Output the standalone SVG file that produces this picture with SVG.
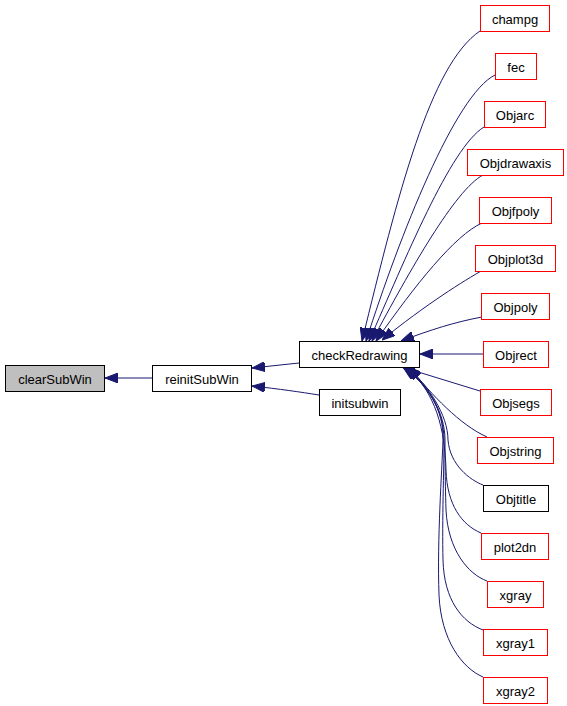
<svg xmlns="http://www.w3.org/2000/svg" width="567" height="706" viewBox="0 0 567 706">
<style>
.n rect{fill:#ffffff;stroke:#000000;stroke-width:1}
.n.r rect{stroke:#ff0000}
.n.g rect{fill:#bfbfbf}
.n text{font-family:"Liberation Sans",Arial,sans-serif;font-size:13px;fill:#000000;text-anchor:middle}
.e path{fill:none;stroke:#191970;stroke-width:1;marker-end:url(#ah)}
</style>
<defs>
<marker id="ah" viewBox="0 0 13 10" refX="13" refY="5" markerWidth="13" markerHeight="10" markerUnits="userSpaceOnUse" orient="auto">
<path d="M0,0 L13,5 L0,10 z" fill="#191970" stroke="#191970" stroke-width="1"/>
</marker>
</defs>
<rect width="567" height="706" fill="#ffffff"/>
<g id="edges" class="e">
<path d="M152,378 L105,378"/>
<path d="M299,363 L252,368"/>
<path d="M319,395 C300,392 280,389 252,386"/>
<path d="M480,31 C430,65 398,194 362,341"/>
<path d="M495,75 C455,95 400,235 366,341"/>
<path d="M484,127 C450,148 405,260 369,341"/>
<path d="M483,175 C455,190 410,270 372,341"/>
<path d="M482,223 C455,235 415,285 376,341"/>
<path d="M483,270 C465,280 425,305 382,340"/>
<path d="M482,317 C455,322 430,330 401,341"/>
<path d="M483,354 L420,354"/>
<path d="M480,391 L402,367"/>
<path d="M487,437 C460,425 432,395 409,367"/>
<path d="M483,485 C470,480 450,465 448,440 C448,415 428,385 407,367"/>
<path d="M481,533 C462,525 447,505 446,470 C445,430 436,392 406,367"/>
<path d="M487,581 C468,574 448,550 446,510 C445,475 445,455 445,440 C445,412 428,385 405,367"/>
<path d="M483,630 C462,622 444,600 443,560 C442,520 444,470 444,440 C444,411 428,385 404,367"/>
<path d="M483,677 C462,668 441,640 439,595 C437,540 442,470 443,440 C444,410 428,385 403,367"/>
</g>
<g id="clearSubWin" class="n g"><rect x="5.5" y="365.5" width="99" height="26"/><text x="55" y="384">clearSubWin</text></g>
<g id="reinitSubWin" class="n"><rect x="152.5" y="365.5" width="99" height="26"/><text x="202" y="384">reinitSubWin</text></g>
<g id="checkRedrawing" class="n"><rect x="299.5" y="341.5" width="120" height="26"/><text x="359.5" y="360">checkRedrawing</text></g>
<g id="initsubwin" class="n"><rect x="319.5" y="389.5" width="81" height="26"/><text x="360" y="408">initsubwin</text></g>
<g id="champg" class="n r"><rect x="480.5" y="5.5" width="69" height="26"/><text x="515" y="24">champg</text></g>
<g id="fec" class="n r"><rect x="495.5" y="53.5" width="41" height="26"/><text x="516" y="72">fec</text></g>
<g id="Objarc" class="n r"><rect x="484.5" y="101.5" width="61" height="26"/><text x="515" y="120">Objarc</text></g>
<g id="Objdrawaxis" class="n r"><rect x="467.5" y="149.5" width="96" height="26"/><text x="515.5" y="168">Objdrawaxis</text></g>
<g id="Objfpoly" class="n r"><rect x="479.5" y="197.5" width="72" height="26"/><text x="515.5" y="216">Objfpoly</text></g>
<g id="Objplot3d" class="n r"><rect x="475.5" y="245.5" width="80" height="26"/><text x="515.5" y="264">Objplot3d</text></g>
<g id="Objpoly" class="n r"><rect x="481.5" y="293.5" width="68" height="26"/><text x="515.5" y="312">Objpoly</text></g>
<g id="Objrect" class="n r"><rect x="483.5" y="341.5" width="65" height="26"/><text x="516" y="360">Objrect</text></g>
<g id="Objsegs" class="n r"><rect x="480.5" y="389.5" width="71" height="26"/><text x="516" y="408">Objsegs</text></g>
<g id="Objstring" class="n r"><rect x="477.5" y="437.5" width="76" height="26"/><text x="515.5" y="456">Objstring</text></g>
<g id="Objtitle" class="n"><rect x="483.5" y="485.5" width="65" height="26"/><text x="516" y="504">Objtitle</text></g>
<g id="plot2dn" class="n r"><rect x="481.5" y="533.5" width="67" height="26"/><text x="515" y="552">plot2dn</text></g>
<g id="xgray" class="n r"><rect x="487.5" y="581.5" width="56" height="26"/><text x="515.5" y="600">xgray</text></g>
<g id="xgray1" class="n r"><rect x="483.5" y="629.5" width="64" height="26"/><text x="515.5" y="648">xgray1</text></g>
<g id="xgray2" class="n r"><rect x="483.5" y="677.5" width="64" height="26"/><text x="515.5" y="696">xgray2</text></g>
</svg>
